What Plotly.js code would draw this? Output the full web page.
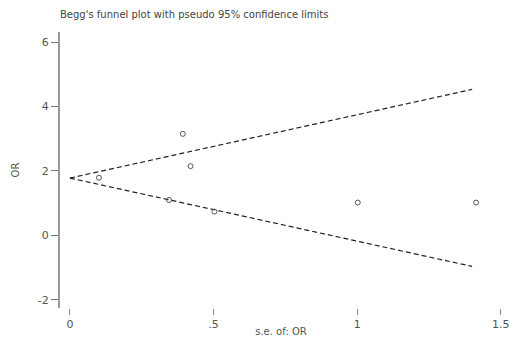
<!DOCTYPE html>
<html>
<head>
<meta charset="utf-8">
<script src="https://cdn.plot.ly/plotly-3.0.1.min.js"></script>
<style>html,body{margin:0;padding:0;background:#fff;}#chart{width:510px;height:337px;}</style>
</head>
<body>
<div id="chart"></div>
<script>
// Study data: standard error of log OR and log OR
const studySe = [0.101, 0.345, 0.393, 0.420, 0.503, 1.002, 1.414];
const studyOr = [1.79, 1.10, 3.15, 2.15, 0.74, 1.02, 1.02];
// Pseudo 95% confidence limits
const limitSe = [0, 1.40];
const upperLimit = [1.78, 4.53];
const lowerLimit = [1.78, -0.96];
// Tick labels
const xTickVals = [0, 0.5, 1, 1.5];
const xTickText = ['0', '.5', '1', '1.5'];
const yTickVals = [-2, 0, 2, 4, 6];
const yTickText = ['-2', '0', '2', '4', '6'];

const textColor = '#555';
const traces = [
  {x: limitSe, y: upperLimit, mode: 'lines', line: {color: '#222', width: 1.2, dash: '5px,3px'}, hoverinfo: 'skip'},
  {x: limitSe, y: lowerLimit, mode: 'lines', line: {color: '#222', width: 1.2, dash: '5px,3px'}, hoverinfo: 'skip'},
  {x: studySe, y: studyOr, mode: 'markers', marker: {symbol: 'circle-open', size: 5, color: '#555', line: {width: 1}}}
];
const layout = {
  width: 510, height: 337,
  margin: {l: 60, r: 8, t: 32, b: 29},
  paper_bgcolor: '#fff', plot_bgcolor: '#fff',
  showlegend: false,
  font: {family: 'DejaVu Sans, sans-serif', size: 10, color: textColor},
  title: {text: "Begg's funnel plot with pseudo 95% confidence limits", x: 60/510, xanchor: 'left', y: 0.958, yanchor: 'middle', font: {size: 10, color: '#444'}},
  xaxis: {
    range: [-0.0345, 1.504], tickvals: xTickVals, ticktext: xTickText,
    showgrid: false, zeroline: false, showline: false,
    ticks: 'outside', ticklen: 6, tickcolor: '#888', tickwidth: 1,
    ticklabeloverflow: 'allow',
    tickfont: {size: 11, color: textColor},
    title: {text: 's.e. of: OR', font: {size: 10, color: textColor}, standoff: 2}
  },
  yaxis: {
    range: [-2.25, 6.31], tickvals: yTickVals, ticktext: yTickText,
    showgrid: false, zeroline: false, showline: true, linecolor: '#999', linewidth: 2,
    ticks: 'outside', ticklen: 7, tickcolor: '#777', tickwidth: 1,
    tickfont: {size: 11, color: textColor},
    title: {text: 'OR', font: {size: 10, color: textColor}, standoff: 16}
  }
};
Plotly.newPlot('chart', traces, layout, {displayModeBar: false, staticPlot: true});
</script>
</body>
</html>
